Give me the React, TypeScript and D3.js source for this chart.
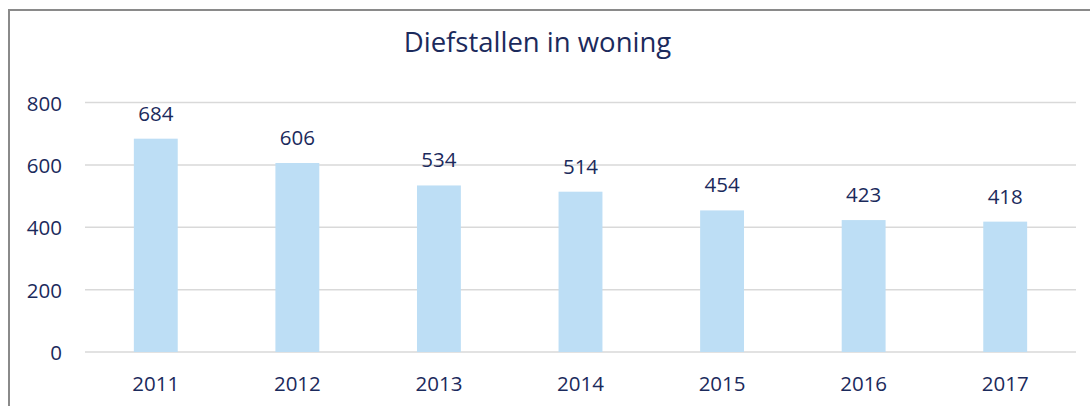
import React from "react";
import * as d3 from "d3";

const years = ["2011", "2012", "2013", "2014", "2015", "2016", "2017"];
const values = [684, 606, 534, 514, 454, 423, 418];
const yTicks = [0, 200, 400, 600, 800];
const title = "Diefstallen in woning";

const W = 1090;
const H = 406;
const FONT = "'Open Sans', 'Noto Sans', sans-serif";
const TEXT = "#1B2A5C";

export default function App() {
  const x = d3.scaleBand<string>().domain(years).range([85, 1076]).paddingInner(0.69).paddingOuter(0.345);
  const y = d3.scaleLinear().domain([0, 800]).range([352, 102.5]);

  return (
    <svg width={W} height={H} style={{ position: "absolute", left: 0, top: 0, background: "#fff" }}>
      <rect x={0} y={0} width={W} height={H} fill="#fff" />
      <path d={`M9,${H + 5} V10 H${W + 5}`} fill="none" stroke="#8A8A8A" strokeWidth={2} />
      <text x={537.5} y={52} textAnchor="middle" fontFamily={FONT} fontSize={27.5} fill={TEXT}>
        {title}
      </text>
      {yTicks.map((t) => (
        <g key={t}>
          <line x1={85} x2={1076} y1={y(t)} y2={y(t)} stroke="#D9D9D9" strokeWidth={1.5} />
          <text x={62} y={y(t) + 8} textAnchor="end" fontFamily={FONT} fontSize={20.5} fill={TEXT}>
            {t}
          </text>
        </g>
      ))}
      {years.map((yr, i) => (
        <g key={yr}>
          <rect x={x(yr)} y={y(values[i])} width={x.bandwidth()} height={y(0) - y(values[i])} fill="#BDDEF5" />
          <text x={(x(yr) as number) + x.bandwidth() / 2} y={y(values[i]) - 18} textAnchor="middle" fontFamily={FONT} fontSize={20.5} fill={TEXT}>
            {values[i]}
          </text>
          <text x={(x(yr) as number) + x.bandwidth() / 2} y={391} textAnchor="middle" fontFamily={FONT} fontSize={20.5} fill={TEXT}>
            {yr}
          </text>
        </g>
      ))}
    </svg>
  );
}
